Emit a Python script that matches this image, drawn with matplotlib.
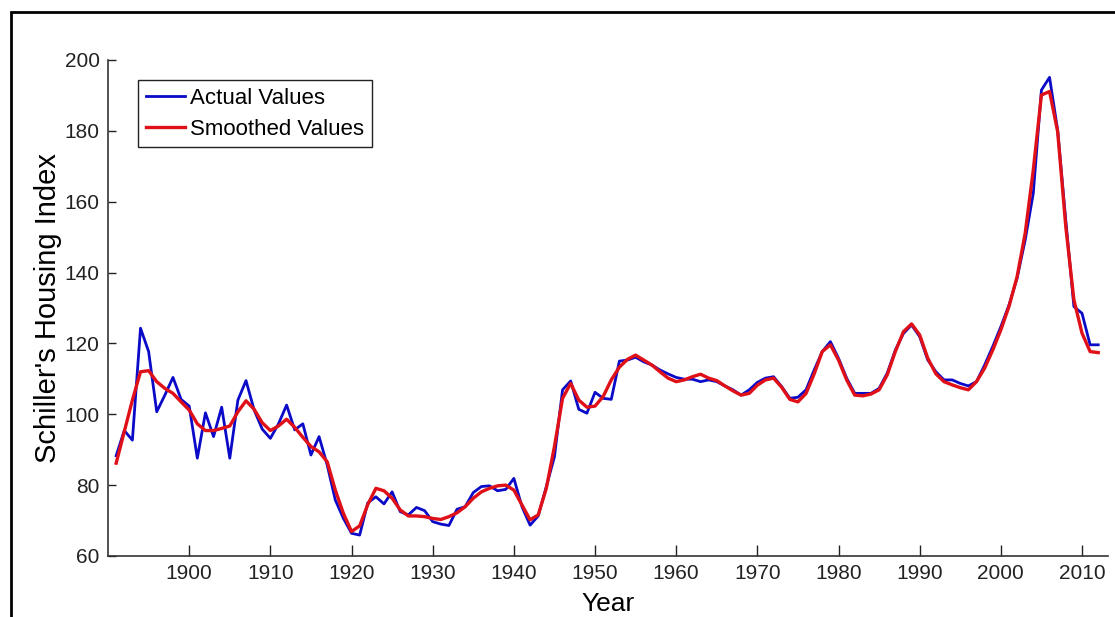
import numpy as np
import matplotlib
matplotlib.use("Agg")
import matplotlib.pyplot as plt
from matplotlib.patches import Rectangle

plt.rcParams['font.family'] = ['Liberation Sans', 'DejaVu Sans']

years = np.arange(1891, 2013)

actual = [
    88.3, 95.4, 92.7, 124.3, 117.7, 100.7, 105.4, 110.4, 104.2, 102.3,   # 1891-1900
    87.6, 100.4, 93.7, 102.0, 87.6, 104.0, 109.5, 101.2, 95.8, 93.2,     # 1901-1910
    97.3, 102.6, 95.6, 97.3, 88.5, 93.7, 85.7, 75.8, 70.6, 66.4,         # 1911-1920
    65.9, 75.0, 76.7, 74.7, 78.1, 72.5, 71.6, 73.7, 72.8, 69.7,          # 1921-1930
    69.0, 68.6, 73.2, 73.9, 77.9, 79.6, 79.8, 78.4, 78.8, 81.9,          # 1931-1940
    73.9, 68.7, 71.3, 79.6, 88.0, 106.9, 109.4, 101.4, 100.3, 106.2,     # 1941-1950
    104.5, 104.2, 115.0, 115.3, 116.1, 114.8, 113.9, 112.5, 111.4, 110.4,  # 1951-1960
    109.9, 109.9, 109.2, 109.7, 109.2, 108.0, 106.9, 105.4, 106.9, 109.0,  # 1961-1970
    110.2, 110.6, 107.8, 104.5, 104.8, 106.9, 112.5, 117.7, 120.5, 115.8,  # 1971-1980
    110.2, 105.9, 105.9, 105.9, 107.3, 111.6, 118.1, 122.8, 125.2, 121.9,  # 1981-1990
    115.3, 112.0, 109.7, 109.7, 108.7, 108.0, 109.2, 113.9, 119.1, 124.7,  # 1991-2000
    130.8, 138.4, 149.2, 162.4, 191.5, 195.1, 180.2, 154.8, 130.4, 128.5,  # 2001-2010
    119.6, 119.6,                                                        # 2011-2012
]

smoothed = [
    86.2, 95.1, 104.0, 112.0, 112.3, 109.2, 107.3, 105.9, 103.5, 101.2,  # 1891-1900
    97.3, 95.4, 95.4, 96.0, 96.7, 100.7, 103.8, 101.4, 97.6, 95.4,       # 1901-1910
    96.7, 98.6, 96.3, 93.5, 90.9, 89.4, 86.6, 78.6, 72.0, 66.9,          # 1911-1920
    68.5, 74.5, 79.1, 78.4, 76.3, 73.0, 71.3, 71.3, 71.1, 70.6,          # 1921-1930
    70.3, 71.1, 72.2, 73.9, 76.3, 78.1, 79.1, 79.8, 80.0, 78.6,          # 1931-1940
    74.4, 70.2, 71.6, 79.1, 90.9, 104.5, 108.7, 104.0, 102.0, 102.3,     # 1941-1950
    105.0, 109.7, 113.3, 115.5, 116.7, 115.3, 113.9, 112.0, 110.2, 109.2,  # 1951-1960
    109.7, 110.6, 111.3, 110.2, 109.5, 108.0, 106.6, 105.4, 105.9, 108.2,  # 1961-1970
    109.7, 110.2, 107.6, 104.2, 103.5, 105.9, 111.4, 117.7, 119.6, 115.3,  # 1971-1980
    109.7, 105.4, 105.2, 105.7, 106.9, 111.1, 117.7, 123.3, 125.5, 122.4,  # 1981-1990
    115.8, 111.4, 109.2, 108.3, 107.5, 106.9, 109.2, 113.0, 118.1, 123.8,  # 1991-2000
    130.4, 138.8, 151.1, 169.0, 190.1, 191.1, 179.8, 153.0, 132.3, 122.9,  # 2001-2010
    117.7, 117.4,                                                        # 2011-2012
]

xticks = [1900, 1910, 1920, 1930, 1940, 1950, 1960, 1970, 1980, 1990, 2000, 2010]
yticks = [60, 80, 100, 120, 140, 160, 180, 200]

fig = plt.figure(figsize=(11.15, 6.17), dpi=100)
ax = fig.add_axes([0.0969, 0.0989, 0.8968, 0.8039])

ax.plot(years, actual, color='#0a0ac8', lw=2.0, label='Actual Values')
ax.plot(years, smoothed, color='#e01018', lw=2.4, label='Smoothed Values')

ax.set_xlim(1890, 2013.2)
ax.set_ylim(60, 200)
ax.set_xticks(xticks)
ax.set_yticks(yticks)
ax.tick_params(axis='both', direction='in', labelsize=15, colors='#222222', width=1.0)
ax.tick_params(axis='x', length=8, pad=6)
ax.tick_params(axis='y', length=6, pad=6)
for s in ['top', 'right']:
    ax.spines[s].set_visible(False)
for s in ['left', 'bottom']:
    ax.spines[s].set_linewidth(1.2)
    ax.spines[s].set_color('#333333')

ax.set_xlabel('Year', fontsize=19, labelpad=6)
ax.set_ylabel("Schiller's Housing Index", fontsize=21, labelpad=2)

leg = ax.legend(loc='upper left', bbox_to_anchor=(0.03, 0.96), fontsize=16,
                frameon=True, fancybox=False, framealpha=1, edgecolor='#222222',
                handlelength=1.75, handletextpad=0.25, borderpad=0.35, labelspacing=0.45,
                borderaxespad=0)
leg.get_frame().set_linewidth(1.0)

# outer frame around the figure
fig.patches.append(Rectangle((11 / 1115, -0.1), 1.2, 1.0806, transform=fig.transFigure,
                             fill=False, edgecolor='black', lw=2.0, clip_on=False))

fig.savefig('out.png', dpi=100)
